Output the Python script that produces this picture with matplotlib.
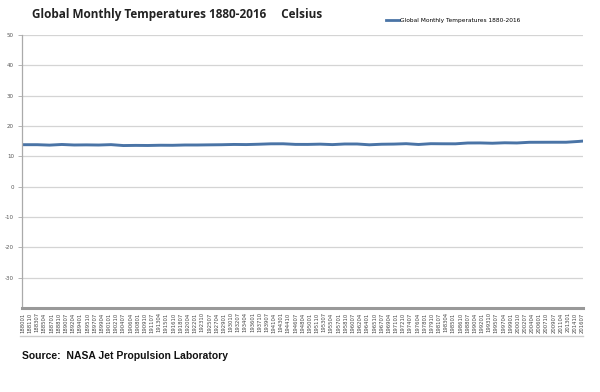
import matplotlib
matplotlib.use("Agg")
import matplotlib.pyplot as plt

# annual mean temperature (deg C), one value every 3 years
years = [1880, 1883, 1886, 1889, 1892, 1895, 1898, 1901, 1904, 1907, 1910,
         1913, 1916, 1919, 1922, 1925, 1928, 1931, 1934, 1937, 1940, 1943,
         1946, 1949, 1952, 1955, 1958, 1961, 1964, 1967, 1970, 1973, 1976,
         1979, 1982, 1985, 1988, 1991, 1994, 1997, 2000, 2003, 2006, 2009,
         2012, 2015, 2016]
temps = [13.83, 13.83, 13.69, 13.90, 13.73, 13.77, 13.72, 13.85, 13.55, 13.60,
         13.57, 13.65, 13.63, 13.73, 13.73, 13.78, 13.82, 13.91, 13.87, 13.98,
         14.12, 14.13, 13.93, 13.92, 14.01, 13.86, 14.06, 14.06, 13.80, 13.98,
         14.03, 14.16, 13.90, 14.16, 14.13, 14.12, 14.39, 14.41, 14.31, 14.46,
         14.40, 14.62, 14.63, 14.64, 14.64, 14.90, 15.01]

start_year, start_month = 1880, 1
last_month_index = (2016 - 1880) * 12 + 6   # series ends 2016-07
label_step = 21                              # Excel shows every 21st category

y_ticks = [-30, -20, -10, 0, 10, 20, 30, 40, 50]

# month index of each reading (mid-year, clipped to the series range)
xs = [min(max((y - start_year) * 12 + 6, 0), last_month_index) for y in years]
xs[0] = 0

tick_pos = list(range(0, last_month_index + 1, label_step))
tick_lab = []
for m in tick_pos:
    yy = start_year + (m + start_month - 1) // 12
    mm = (m + start_month - 1) % 12 + 1
    tick_lab.append(f"{yy}{mm:02d}")

fig = plt.figure(figsize=(6.0, 3.92), dpi=100)
ax = fig.add_axes([0.037, 0.214, 0.935, 0.697])

ax.plot(xs, temps, color="#4a74a6", linewidth=2.1, solid_joinstyle="round",
        label="Global Monthly Temperatures 1880-2016")

ax.set_xlim(-2, last_month_index + 2)
ax.set_ylim(-40, 50)
ax.set_yticks(y_ticks)
ax.set_yticklabels([str(v) for v in y_ticks], fontsize=4, color="#555555")
ax.yaxis.grid(True, color="#d4d4d4", linewidth=0.9)
ax.set_axisbelow(True)
ax.tick_params(axis="y", length=3, width=0.6, color="#aaaaaa", pad=3)

ax.set_xticks(tick_pos)
ax.set_xticklabels(tick_lab, rotation=90, fontsize=3.8, color="#444444")
ax.tick_params(axis="x", length=0, pad=3)

for side in ("top", "right"):
    ax.spines[side].set_visible(False)
ax.spines["left"].set_color("#aaaaaa")
ax.spines["left"].set_linewidth(0.9)
ax.spines["bottom"].set_color("#999999")
ax.spines["bottom"].set_linewidth(2.2)

# line under the category labels
fig.add_artist(plt.Line2D([0.033, 0.972], [0.142, 0.142], color="#cccccc",
                          linewidth=1.0, transform=fig.transFigure))

leg = ax.legend(loc="upper left", bbox_to_anchor=(0.645, 1.07), frameon=False,
                fontsize=4.2, handlelength=2.2, handletextpad=0.2,
                borderaxespad=0)
leg.get_lines()[0].set_linewidth(2.0)

fig.text(0.053, 0.962, "Global Monthly Temperatures 1880-2016     Celsius",
         fontsize=8.5, fontweight="bold", family="Open Sans", color="#222222",
         va="center", ha="left")
fig.text(0.037, 0.093, "Source:  NASA Jet Propulsion Laboratory",
         fontsize=7.5, fontweight="bold", family="Liberation Sans",
         color="#111111", va="center", ha="left")

fig.savefig("out.png", dpi=100)
plt.close(fig)
